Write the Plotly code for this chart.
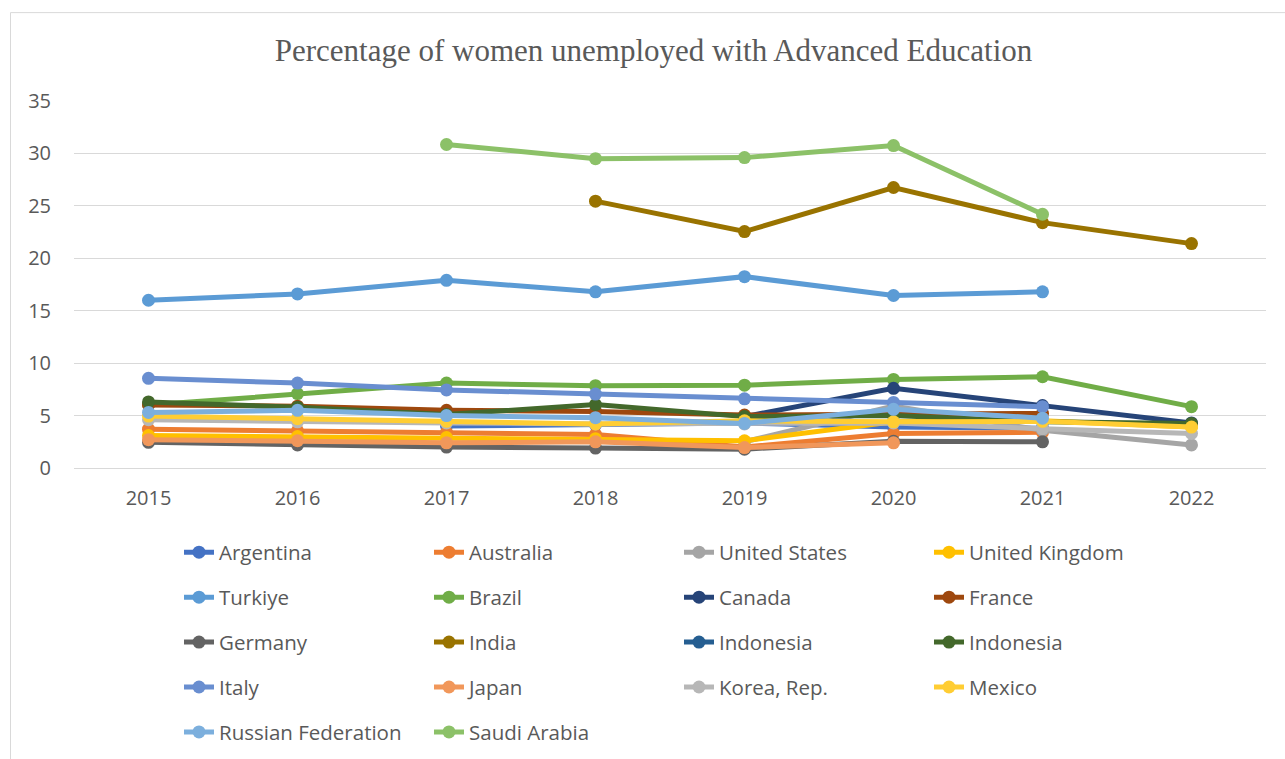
import plotly.graph_objects as go

years = ["2015", "2016", "2017", "2018", "2019", "2020", "2021", "2022"]

argentina = [None, None, 4.0, 4.1, 4.3, 3.9, 3.8, None]
australia = [3.7, 3.55, 3.4, 3.2, 2.0, 3.3, 3.4, None]
united_states = [None, None, None, None, 2.5, 5.9, 3.6, 2.2]
united_kingdom = [3.1, 3.0, 2.9, 2.8, 2.6, 4.4, 4.5, 3.9]
turkiye = [16.0, 16.6, 17.9, 16.8, 18.25, 16.45, 16.8, None]
brazil = [6.0, 7.1, 8.1, 7.85, 7.9, 8.45, 8.7, 5.85]
canada = [None, None, None, None, 4.9, 7.6, 5.95, 4.3]
france = [6.0, 5.9, 5.5, 5.4, 5.05, 5.15, 5.2, None]
germany = [2.45, 2.2, 2.0, 1.9, 1.8, 2.55, 2.5, None]
india = [None, None, None, 25.45, 22.55, 26.75, 23.4, 21.4]
indonesia_a = [None, None, None, None, None, None, None, None]
indonesia_b = [6.3, 5.8, 5.1, 6.05, 4.9, 5.0, 4.4, 4.25]
italy = [8.55, 8.1, 7.45, 7.05, 6.6, 6.25, 5.85, None]
japan = [2.7, 2.6, 2.4, 2.5, 1.95, 2.4, None, None]
korea = [4.6, 4.4, 4.3, 4.2, 4.2, 4.3, 3.75, 3.3]
mexico = [4.95, 4.7, 4.45, 4.2, 4.5, 4.4, 4.45, 3.9]
russian_federation = [5.3, 5.5, 5.0, 4.8, 4.25, 5.6, 4.75, None]
saudi_arabia = [None, None, 30.85, 29.5, 29.6, 30.75, 24.2, None]

series = [
    ("Argentina", argentina, "#4472C4"),
    ("Australia", australia, "#ED7D31"),
    ("United States", united_states, "#A5A5A5"),
    ("United Kingdom", united_kingdom, "#FFC000"),
    ("Turkiye", turkiye, "#5B9BD5"),
    ("Brazil", brazil, "#70AD47"),
    ("Canada", canada, "#264478"),
    ("France", france, "#9E480E"),
    ("Germany", germany, "#636363"),
    ("India", india, "#997300"),
    ("Indonesia", indonesia_a, "#255E91"),
    ("Indonesia", indonesia_b, "#43682B"),
    ("Italy", italy, "#698ED0"),
    ("Japan", japan, "#F1975A"),
    ("Korea, Rep.", korea, "#B7B7B7"),
    ("Mexico", mexico, "#FFCD33"),
    ("Russian Federation", russian_federation, "#7CAFDD"),
    ("Saudi Arabia", saudi_arabia, "#8CC168"),
]

legend_names = ["legend", "legend2", "legend3", "legend4", "legend5"]

fig = go.Figure()
for i, (name, vals, color) in enumerate(series):
    fig.add_trace(go.Scatter(
        x=years, y=vals, name=name, mode="lines+markers",
        line=dict(color=color, width=5),
        marker=dict(color=color, size=13),
        connectgaps=False,
        legend=legend_names[i // 4],
    ))

# pixel -> paper helpers
L, R, T, B = 74, 1266, 101, 468.5
def px_x(p):
    return (p - L) / (R - L)
def px_y(p):
    return (B - p) / (B - T)

font_main = "Open Sans, Noto Sans, sans-serif"
row_y = [553, 598, 643, 688, 733]
legend_common = dict(
    orientation="h", entrywidth=205, entrywidthmode="pixels",
    font=dict(family=font_main, size=20.5, color="#595959"),
    bgcolor="rgba(0,0,0,0)", xanchor="left", yanchor="middle",
    x=px_x(179), itemwidth=30, tracegroupgap=0,
)
layout_legends = {}
for k, ln in enumerate(legend_names):
    layout_legends[ln] = dict(legend_common, y=px_y(row_y[k]))

fig.update_layout(
    width=1285, height=759,
    margin=dict(l=L, r=1285 - R, t=T, b=759 - B, autoexpand=False),
    paper_bgcolor="white", plot_bgcolor="white",
    title=dict(
        text="Percentage of women unemployed with Advanced Education",
        x=653.5 / 1285, xanchor="center",
        y=1 - 50 / 759, yanchor="middle",
        font=dict(family="Liberation Serif, Times New Roman, serif", size=31, color="#595959"),
    ),
    xaxis=dict(
        type="category", range=[-0.5, 7.5], showgrid=False,
        showline=False, zeroline=False,
        tickfont=dict(family=font_main, size=20, color="#595959"),
        ticks="", ticklabelstandoff=16,
    ),
    yaxis=dict(
        range=[0, 35], dtick=5, tick0=0, showgrid=True, gridcolor="#D9D9D9",
        gridwidth=1, zeroline=True, zerolinecolor="#D9D9D9", zerolinewidth=1,
        showline=False,
        tickfont=dict(family=font_main, size=20, color="#595959"),
        ticks="", ticklabelstandoff=22,
    ),
    showlegend=True,
    **layout_legends,
    shapes=[dict(
        type="rect", xref="paper", yref="paper",
        x0=px_x(10.5), x1=px_x(1300), y0=px_y(800), y1=px_y(12.5),
        line=dict(color="#D9D9D9", width=1), fillcolor="rgba(0,0,0,0)",
        layer="below",
    )],
)

fig.write_html("out.html", post_script="document.body.style.margin='0';",
               config={"displayModeBar": False})
